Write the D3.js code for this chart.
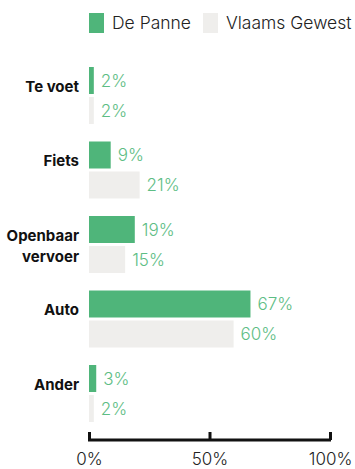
<!DOCTYPE html>
<html>
<head>
<meta charset="utf-8">
<script src="https://cdn.jsdelivr.net/npm/d3@7"></script>
<style>
  html, body { margin: 0; padding: 0; background: #fff; }
  svg { display: block; }
</style>
</head>
<body>
<svg id="chart" width="355" height="469"></svg>
<script>
// Verplaatsingen naar modus: De Panne vs Vlaams Gewest (%)
const categories = [["Te voet"], ["Fiets"], ["Openbaar", "vervoer"], ["Auto"], ["Ander"]];
const series = ["De Panne", "Vlaams Gewest"];
const dePanne = [2, 9, 19, 67, 3];
const vlaamsGewest = [2, 21, 15, 60, 2];
const tickValues = [0, 50, 100];

const colors = { "De Panne": "#4fb57a", "Vlaams Gewest": "#efeeec" };
const labelColor = "#5dbd84";
const font = "Inter, Roboto, 'DejaVu Sans', sans-serif";

const svg = d3.select("#chart");

const keys = categories.map(c => c.join(" "));
const rows = keys.map((k, i) => ({ key: k, lines: categories[i], values: [dePanne[i], vlaamsGewest[i]] }));

const x = d3.scaleLinear().domain([0, 100]).range([89, 330]);
const y = d3.scaleBand().domain(keys).range([67, 422]).paddingInner(0.235).paddingOuter(0);
const ySub = d3.scaleBand().domain(series).range([0, y.bandwidth()]).paddingInner(0.1).paddingOuter(0);

// Legend
const legend = svg.append("g");
const legendPos = [89, 203];
series.forEach((s, i) => {
  legend.append("rect")
    .attr("x", legendPos[i]).attr("y", 13).attr("width", 15).attr("height", 20)
    .attr("fill", colors[s]);
  legend.append("text")
    .attr("x", legendPos[i] + 23).attr("y", 29)
    .attr("font-family", font).attr("font-size", 17.5).attr("font-weight", 300)
    .attr("fill", "#222")
    .text(s);
});

// Groups
const groups = svg.append("g").selectAll("g.group").data(rows).join("g")
  .attr("class", "group")
  .attr("transform", d => `translate(0,${y(d.key)})`);

groups.each(function (d) {
  const g = d3.select(this);
  series.forEach((s, j) => {
    const v = d.values[j];
    g.append("rect")
      .attr("x", x(0)).attr("y", ySub(s))
      .attr("width", x(v) - x(0)).attr("height", ySub.bandwidth())
      .attr("fill", colors[s]);
    g.append("text")
      .attr("x", x(v) + 7).attr("y", ySub(s) + ySub.bandwidth() / 2)
      .attr("dy", "0.36em")
      .attr("font-family", font).attr("font-size", 17).attr("font-weight", 300)
      .attr("fill", labelColor)
      .text(v + "%");
  });
  const mid = y.bandwidth() / 2;
  const label = g.append("text")
    .attr("x", 79).attr("text-anchor", "end")
    .attr("font-family", font).attr("font-size", 15).attr("font-weight", 700)
    .attr("fill", "#111");
  d.lines.forEach((line, k) => {
    label.append("tspan").attr("x", 79).attr("y", mid - 9 + k * 21).attr("dy", "0.36em").text(line);
  });
});

// Axis
const axis = d3.axisBottom(x).tickValues(tickValues).tickFormat(d => d + "%").tickSize(0).tickPadding(0);
const ax = svg.append("g").attr("transform", "translate(0,440)").call(axis);
ax.select(".domain").remove();
ax.append("line").attr("x1", x(0) - 1).attr("x2", x(100) + 1).attr("y1", 0).attr("y2", 0)
  .attr("stroke", "#111").attr("stroke-width", 3);
ax.selectAll(".tick").append("line").attr("y1", -8).attr("y2", 0)
  .attr("stroke", "#111").attr("stroke-width", 3);
ax.selectAll(".tick text")
  .attr("y", 25).attr("dy", 0)
  .attr("font-family", font).attr("font-size", 17).attr("font-weight", 300)
  .attr("fill", "#222");
</script>
</body>
</html>
